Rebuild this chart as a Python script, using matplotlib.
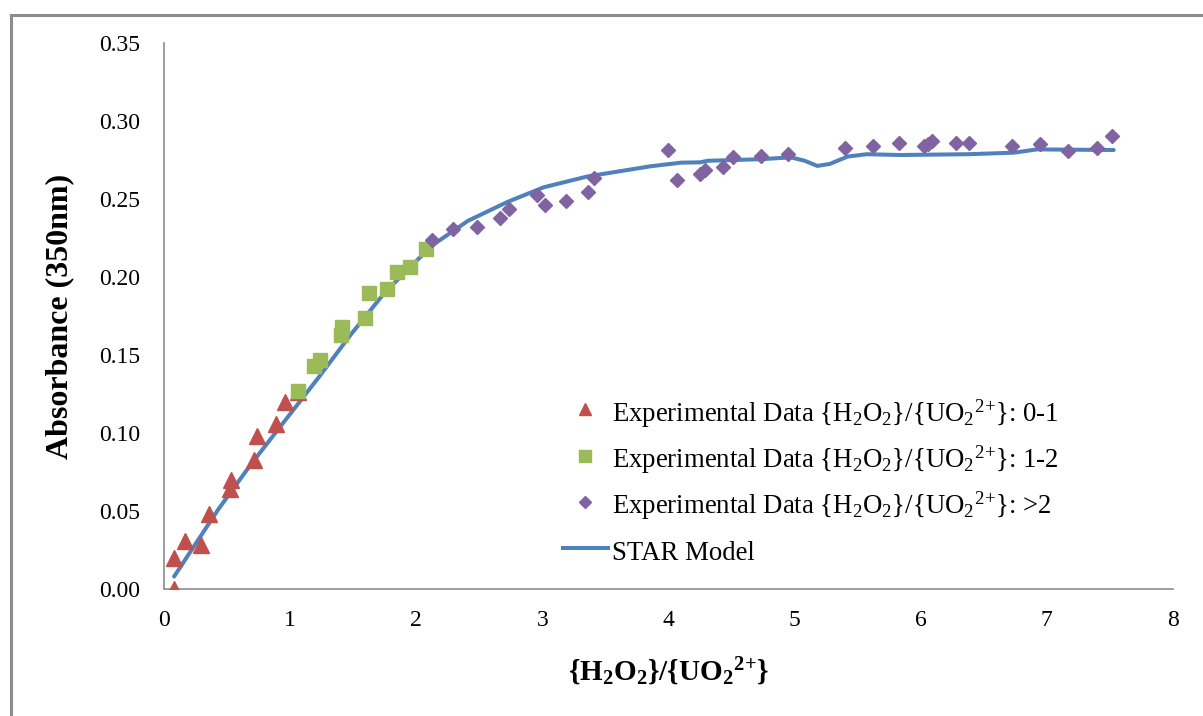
import matplotlib
matplotlib.use('Agg')
import matplotlib.pyplot as plt
import matplotlib.lines as lines

plt.rcParams['font.family'] = 'Liberation Serif'
plt.rcParams['mathtext.fontset'] = 'custom'
plt.rcParams['mathtext.rm'] = 'Liberation Serif'
plt.rcParams['mathtext.it'] = 'Liberation Serif:italic'
plt.rcParams['mathtext.bf'] = 'Liberation Serif:bold'

# experimental data, ratio 0-1
x_low = [0.08, 0.08, 0.17, 0.29, 0.36, 0.525, 0.53, 0.715, 0.74, 0.887, 0.958, 1.06]
y_low = [0.000, 0.020, 0.031, 0.028, 0.048, 0.064, 0.070, 0.083, 0.098, 0.106, 0.120, 0.126]

# ratio 1-2
x_mid = [1.06, 1.19, 1.24, 1.40, 1.415, 1.595, 1.626, 1.77, 1.85, 1.95, 2.075]
y_mid = [0.127, 0.143, 0.147, 0.163, 0.168, 0.174, 0.1895, 0.192, 0.2035, 0.2067, 0.218]

# ratio > 2
x_high = [2.128, 2.295, 2.485, 2.664, 2.735, 2.954, 3.018, 3.19, 3.364, 3.41,
          3.995, 4.07, 4.253, 4.293, 4.433, 4.512, 4.737, 4.948, 5.397, 5.62,
          5.83, 6.028, 6.06, 6.088, 6.278, 6.379, 6.727, 6.947, 7.17, 7.395, 7.52]
y_high = [0.2237, 0.2306, 0.232, 0.2376, 0.2434, 0.2526, 0.246, 0.249, 0.2543, 0.2633,
          0.2814, 0.2622, 0.266, 0.2686, 0.2708, 0.2767, 0.2776, 0.2787, 0.2825, 0.2842,
          0.2857, 0.284, 0.2855, 0.2874, 0.2857, 0.2857, 0.284, 0.285, 0.281, 0.2827, 0.2906]

# STAR model curve
x_model = [0.08, 0.43, 0.69, 0.95, 1.22, 1.48, 1.75, 2.01, 2.14, 2.41, 2.72, 3.01,
           3.36, 3.86, 4.10, 4.25, 4.31, 4.73, 4.97, 5.08, 5.18, 5.28, 5.42, 5.57,
           5.84, 6.37, 6.74, 6.92, 7.53]
y_model = [0.008, 0.051, 0.080, 0.107, 0.135, 0.163, 0.190, 0.211, 0.221, 0.236, 0.248, 0.2575,
           0.2645, 0.271, 0.2733, 0.2735, 0.2745, 0.2755, 0.2767, 0.2745, 0.2712, 0.2725, 0.2772, 0.2787,
           0.2782, 0.2787, 0.2797, 0.2818, 0.2814]

red = '#C0504D'
green = '#9BBB59'
purple = '#8064A2'
blue = '#4F81BD'

fig = plt.figure(figsize=(12.03, 7.16), dpi=100)
ax = fig.add_axes([164/1203, 127/716, 1009/1203, 546/716])

# outer chart frame (only top and left edges visible)
fig.add_artist(lines.Line2D([11/1203, 1.0], [1 - 15/716, 1 - 15/716], color='#8c8c8c', lw=2.2,
                            transform=fig.transFigure))
fig.add_artist(lines.Line2D([11/1203, 11/1203], [0.0, 1 - 15/716], color='#8c8c8c', lw=2.2,
                            transform=fig.transFigure))

ax.plot(x_model, y_model, color=blue, lw=2.9, solid_capstyle='round', zorder=2)
ax.plot(x_low, y_low, ls='none', marker='^', ms=11.5, color=red, zorder=3)
ax.plot(x_mid, y_mid, ls='none', marker='s', ms=9.5, color=green, zorder=3)
ax.plot(x_high, y_high, ls='none', marker='D', ms=7, color=purple, zorder=3)

ax.set_xlim(0, 8)
ax.set_ylim(0, 0.35)
ax.set_xticks(range(0, 9))
ax.set_yticks([0, 0.05, 0.10, 0.15, 0.20, 0.25, 0.30, 0.35])
ax.set_yticklabels(['%.2f' % v for v in ax.get_yticks()])
ax.tick_params(length=0, labelsize=17)
ax.tick_params(axis='y', pad=17)
ax.tick_params(axis='x', pad=15)

for s in ['top', 'right']:
    ax.spines[s].set_visible(False)
for s in ['left', 'bottom']:
    ax.spines[s].set_color('#8c8c8c')
    ax.spines[s].set_linewidth(1.2)

ax.set_ylabel('Absorbance (350nm)', fontsize=23, fontweight='bold', labelpad=18)
ax.set_xlabel(r'{H$_\mathbf{2}$O$_\mathbf{2}$}/{UO$_\mathbf{2}$$^\mathbf{2}$$^\mathbf{+}$}', fontsize=21,
              fontweight='bold', labelpad=18)

lab = r'Experimental Data {H$_2$O$_2$}/{UO$_2$$^{2}$$^{+}$}: '
handles = [lines.Line2D([], [], ls='none', marker='^', ms=9, color=red, label=lab + '0-1'),
           lines.Line2D([], [], ls='none', marker='s', ms=8, color=green, label=lab + '1-2'),
           lines.Line2D([], [], ls='none', marker='D', ms=6, color=purple, label=lab + '>2'),
           lines.Line2D([], [], color=blue, lw=2.9, label='STAR Model')]
ax.legend(handles=handles, loc='lower left', bbox_to_anchor=(0.3845, 0.021), frameon=False,
          fontsize=19.3, handlelength=1.7, handleheight=1.4, handletextpad=0.15,
          labelspacing=0.5, borderaxespad=0)

fig.savefig('out.png', dpi=100)
